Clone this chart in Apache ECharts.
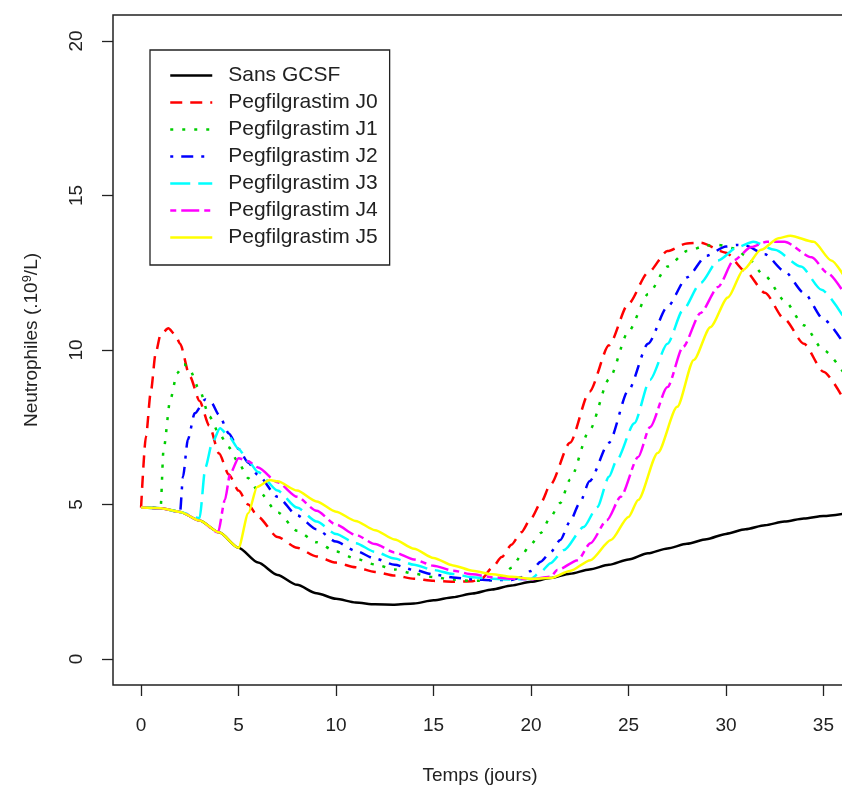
<!DOCTYPE html>
<html>
<head>
<meta charset="utf-8">
<script src="https://cdn.jsdelivr.net/npm/echarts@6/dist/echarts.min.js"></script>
<style>
html,body{margin:0;padding:0;background:#fff;}
#chart{width:842px;height:787px;}
</style>
</head>
<body>
<div id="chart"></div>
<script>
// ---- Data ----
const seriesNames = ['Sans GCSF','Pegfilgrastim J0','Pegfilgrastim J1','Pegfilgrastim J2','Pegfilgrastim J3','Pegfilgrastim J4','Pegfilgrastim J5'];

const xSans = [0,1,2,3,4,5,6,7,8,9,10,11,12,13,14,15,16,17,18,19,20,21,22,23,24,25,26,27,28,29,30,31,32,33,34,35,36];
const ySans = [4.9,4.88,4.76,4.48,4.1,3.6,3.12,2.72,2.4,2.13,1.95,1.83,1.77,1.76,1.8,1.9,2.0,2.12,2.25,2.38,2.5,2.62,2.76,2.9,3.05,3.22,3.42,3.58,3.73,3.88,4.05,4.2,4.33,4.45,4.55,4.63,4.7];

const xJ0 = [0,0.25,0.5,0.75,1,1.4,1.75,2,2.5,3,3.5,4,4.5,5,5.5,6,7,8,9,10,11,12,13,14,15,16,17,17.5,18,18.5,19,19.5,20,20.5,21,22,23,24,25,26,27,28,28.7,30,31,32,33,34,35,36];
const yJ0 = [4.9,7.2,8.65,9.9,10.5,10.7,10.5,10.2,9.15,8.35,7.55,6.65,5.97,5.45,5.0,4.6,3.95,3.6,3.32,3.12,2.97,2.82,2.7,2.6,2.53,2.5,2.52,2.62,2.95,3.3,3.7,4.1,4.55,5.05,5.65,7.0,8.65,10.15,11.5,12.5,13.2,13.45,13.47,13.15,12.55,11.85,11.0,10.2,9.3,8.45];

const xJ1 = [0,0.5,1,1.15,1.5,1.85,2.2,2.5,3,3.5,4,4.5,5,5.5,6,7,8,9,10,11,12,13,14,15,16,17,18,18.5,19,19.5,20,20.5,21,21.5,22,23,24,25,26,27,28,29,29.6,30.5,31,32,33,34,35,36];
const yJ1 = [4.9,4.9,4.88,6.76,8.4,9.25,9.55,9.35,8.7,7.85,7.3,6.85,6.35,5.85,5.45,4.75,4.15,3.78,3.48,3.25,3.06,2.9,2.76,2.65,2.57,2.53,2.55,2.68,2.95,3.35,3.72,4.08,4.6,5.05,5.8,7.4,9.05,10.6,11.8,12.7,13.2,13.38,13.4,13.28,13.05,12.4,11.6,10.8,10.0,9.3];

const xJ2 = [0,1,2,2.15,2.4,2.75,3.3,3.6,4,4.5,5,5.5,6,7,8,9,10,11,12,13,14,15,16,17,18,19,19.5,20,20.5,21,21.5,22,22.5,23,24,25,26,27,28,29,30,30.6,31,32,33,34,35,36];
const yJ2 = [4.9,4.88,4.76,5.9,7.1,7.95,8.4,8.3,7.9,7.3,6.8,6.35,5.95,5.25,4.65,4.2,3.8,3.5,3.25,3.05,2.88,2.74,2.64,2.58,2.55,2.56,2.65,2.85,3.15,3.45,3.85,4.45,5.05,5.75,7.0,8.7,10.2,11.4,12.35,13.05,13.35,13.4,13.38,13.1,12.55,11.85,11.0,10.25];

const xJ3 = [0,1,2,3,3.3,3.65,4.05,4.5,5,5.5,6,7,8,9,10,11,12,13,14,15,16,17,18,19,20,20.5,21,21.7,22.7,23.4,24,24.4,25.3,26.1,27,27.8,28.7,29.6,30.6,31.4,32.5,33.85,34.9,36];
const yJ3 = [4.9,4.88,4.76,4.56,6.2,7.0,7.47,7.2,6.8,6.4,6.05,5.45,4.9,4.45,4.05,3.75,3.47,3.25,3.05,2.88,2.75,2.65,2.6,2.57,2.6,2.82,3.1,3.53,4.27,4.92,5.9,6.44,7.63,9.03,10.2,11.3,12.17,12.9,13.33,13.5,13.24,12.7,11.95,11.1];

const xJ4 = [0,1,2,3,3.95,4.3,4.57,5,5.5,6,7,8,9,10,11,12,13,14,15,16,17,18,19,20,21,21.35,22.4,23.05,23.9,24.6,25.5,26.1,27,27.8,28.7,29.6,30.4,31.3,32.1,33,34.4,35.2,36];
const yJ4 = [4.9,4.88,4.76,4.48,4.1,5.15,6.0,6.5,6.4,6.2,5.72,5.25,4.8,4.35,4.02,3.72,3.45,3.22,3.02,2.86,2.74,2.65,2.6,2.58,2.66,2.88,3.2,3.75,4.5,5.25,6.54,7.5,8.8,10.1,11.2,12.04,12.9,13.33,13.5,13.5,13.0,12.5,11.9];

const xJ5 = [0,1,2,3,4,5,5.5,5.95,6.6,7,8,9,10,11,12,13,14,15,16,17,18,19,20,21,22,23.05,24.1,25,25.5,26.5,27.5,28.35,29.2,30.1,30.9,31.8,32.7,33.3,34.5,35.4,36];
const yJ5 = [4.9,4.88,4.76,4.48,4.1,3.6,4.72,5.57,5.79,5.75,5.45,5.1,4.77,4.47,4.17,3.87,3.57,3.27,3.03,2.86,2.74,2.66,2.6,2.62,2.85,3.2,3.85,4.6,5.15,6.67,8.16,9.68,10.74,11.7,12.6,13.24,13.62,13.7,13.5,12.9,12.45];

const xTicks = [0,5,10,15,20,25,30,35];
const yTicks = [0,5,10,15,20];

// ---- Styles ----
const FONT = 'Liberation Sans, Arial, sans-serif';
const TXT = '#222';
const styles = [
  {color:'#000000', type:'solid'},
  {color:'#ff0000', type:[12,8]},
  {color:'#00cd00', type:[3,9]},
  {color:'#0000ff', type:[3,8,12,8]},
  {color:'#00ffff', type:[20,8]},
  {color:'#ff00ff', type:[6,5,18,5]},
  {color:'#ffff00', type:'solid'}
];
const xsAll = [xSans,xJ0,xJ1,xJ2,xJ3,xJ4,xJ5];
const ysAll = [ySans,yJ0,yJ1,yJ2,yJ3,yJ4,yJ5];

const series = seriesNames.map((name,i)=>({
  name: name,
  type: 'line',
  data: xsAll[i].map((x,k)=>[x, ysAll[i][k]]),
  symbol: 'none',
  smooth: 0.25,
  smoothMonotone: 'x',
  silent: true,
  animation: false,
  z: 2 + i,
  lineStyle: {color: styles[i].color, width: 2.5, type: styles[i].type},
  itemStyle: {color: styles[i].color}
}));

const chart = echarts.init(document.getElementById('chart'), null, {renderer:'canvas'});
chart.setOption({
  backgroundColor: '#ffffff',
  animation: false,
  grid: {left:113, top:15, width:758, height:670, outerBoundsMode:'none', containLabel:false,
         show:true, borderColor:TXT, borderWidth:1.5, backgroundColor:'transparent'},
  xAxis: {
    type:'value', min:-1.44, max:37.44,
    axisLine:{show:false, onZero:false},
    splitLine:{show:false},
    axisTick:{show:true, length:11, customValues:xTicks, lineStyle:{color:TXT, width:1.3}},
    axisLabel:{show:true, customValues:xTicks, margin:31, fontSize:19, fontFamily:FONT, color:TXT}
  },
  yAxis: {
    type:'value', min:-0.84, max:20.84,
    axisLine:{show:false, onZero:false},
    splitLine:{show:false},
    axisTick:{show:true, length:11, customValues:yTicks, lineStyle:{color:TXT, width:1.3}},
    axisLabel:{show:true, customValues:yTicks, rotate:90, margin:27, fontSize:19, fontFamily:FONT, color:TXT}
  },
  legend: {
    data: seriesNames,
    orient:'vertical',
    left:150, top:50,
    padding:[15,12,17,19],
    borderColor:TXT, borderWidth:1.3,
    backgroundColor:'#fff',
    itemWidth:42, itemHeight:14, itemGap:6,
    selectedMode:false,
    itemStyle:{opacity:0},
    lineStyle:{width:2.5},
    textStyle:{fontSize:21, fontFamily:FONT, color:TXT, lineHeight:20, padding:[0,0,0,11]}
  },
  graphic: [
    {type:'text', x:480, y:776, silent:true,
      style:{text:'Temps (jours)', fontSize:19, fontFamily:FONT, fill:TXT, align:'center', verticalAlign:'middle'}},
    {type:'text', x:32, y:340, rotation:Math.PI/2, silent:true,
      style:{text:'Neutrophiles (.10{sup|9}/L)', fontSize:19, fontFamily:FONT, fill:TXT, align:'center', verticalAlign:'middle',
        rich:{sup:{fontSize:13, fontFamily:FONT, fill:TXT, padding:[0,0,9,0]}}}}
  ],
  series: series
});
</script>
</body>
</html>
